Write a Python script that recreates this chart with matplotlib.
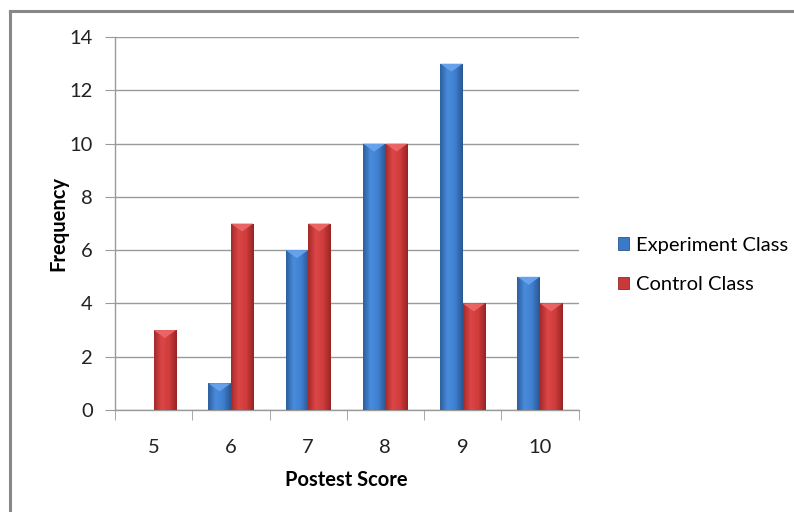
import numpy as np
import matplotlib
matplotlib.use("Agg")
import matplotlib.pyplot as plt
from matplotlib.colors import LinearSegmentedColormap
from matplotlib.patches import Polygon, Rectangle
from matplotlib.lines import Line2D

categories = ["5", "6", "7", "8", "9", "10"]
experiment = [0, 1, 6, 10, 13, 5]
control = [3, 7, 7, 10, 4, 4]
series_names = ["Experiment Class", "Control Class"]
y_ticks = [0, 2, 4, 6, 8, 10, 12, 14]

plt.rcParams['font.family'] = ['Lato', 'DejaVu Sans']
FS = 14.5

fig = plt.figure(figsize=(7.94, 5.12), dpi=100)
ax = fig.add_axes([115/794, 1-410/512, (578.5-115)/794, (410-37)/512])

x = np.arange(len(categories))
w = 0.29
blue_cmap = LinearSegmentedColormap.from_list("b", ["#2c5f9e", "#4a8cdc", "#3f7fcf", "#2a5692"])
red_cmap = LinearSegmentedColormap.from_list("r", ["#a52a2a", "#dc4646", "#cf3c3c", "#992424"])
blue_top = "#6aa6ee"
red_top = "#ec6a6a"

bars_e = ax.bar(x - w/2, experiment, w, color="#3a78c8", zorder=3, linewidth=0)
bars_c = ax.bar(x + w/2, control, w, color="#c83a3a", zorder=3, linewidth=0)

grad = np.linspace(0, 1, 64).reshape(1, -1)
for bars, cmap, topc in [(bars_e, blue_cmap, blue_top), (bars_c, red_cmap, red_top)]:
    for p in bars:
        h = p.get_height()
        if h <= 0:
            continue
        x0 = p.get_x(); bw = p.get_width()
        im = ax.imshow(grad, cmap=cmap, aspect="auto", extent=(x0, x0 + bw, 0, h), zorder=4)
        im.set_clip_path(p)
        bev = 0.3
        poly = Polygon([(x0, h), (x0 + bw, h), (x0 + bw*0.5, h - bev)], closed=True,
                       facecolor=topc, edgecolor="none", zorder=5, alpha=0.9)
        ax.add_patch(poly)

ax.set_xlim(-0.5, len(categories) - 0.5)
ax.set_ylim(0, 14)
ax.set_yticks(y_ticks)
ax.set_yticklabels([str(t) for t in y_ticks], fontsize=FS, color="#222222")
ax.set_xticks(x)
ax.set_xticklabels(categories, fontsize=FS, color="#222222")
ax.set_xticks(np.arange(len(categories) + 1) - 0.5, minor=True)
ax.tick_params(axis="x", which="major", length=0, pad=21)
ax.tick_params(axis="x", which="minor", length=7, color="#9a9a9a", direction="out")
ax.tick_params(axis="y", length=7, color="#9a9a9a", direction="out", pad=9)
ax.grid(axis="y", color="#9a9a9a", linewidth=1.0, zorder=0)
ax.set_axisbelow(True)
for s in ["top", "right"]:
    ax.spines[s].set_visible(False)
for s in ["left", "bottom"]:
    ax.spines[s].set_color("#9a9a9a")
    ax.spines[s].set_linewidth(1.0)

ax.set_ylabel("Frequency", fontsize=FS, fontweight="bold", labelpad=1)
ax.set_xlabel("Postest Score", fontsize=FS, fontweight="bold", labelpad=10)

handles = [Rectangle((0, 0), 1, 1, facecolor="#3a78c8", edgecolor="#2a5692", linewidth=0.6),
           Rectangle((0, 0), 1, 1, facecolor="#c83a3a", edgecolor="#992424", linewidth=0.6)]
leg = fig.legend(handles, series_names, loc="center left", bbox_to_anchor=(600/794, 1-265/512),
                 frameon=False, fontsize=FS, handlelength=0.55, handleheight=0.6,
                 handletextpad=0.35, labelspacing=1.1)

fig.add_artist(Line2D([10/794, 10/794], [0, 1 - 10.5/512], color="#888888", linewidth=2.2,
                      transform=fig.transFigure))
fig.add_artist(Line2D([10/794, 1], [1 - 11/512, 1 - 11/512], color="#888888", linewidth=2.2,
                      transform=fig.transFigure))

fig.savefig("out.png", dpi=100)
